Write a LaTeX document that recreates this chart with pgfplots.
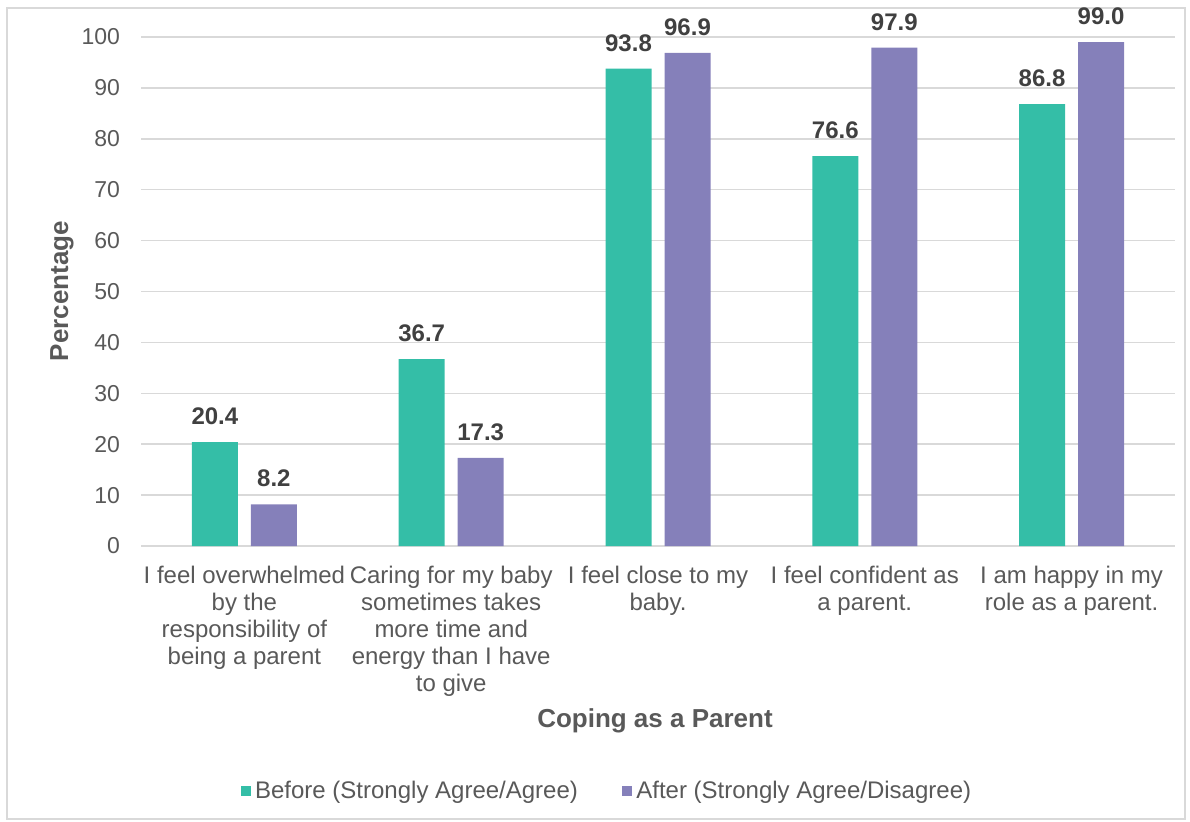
\documentclass[border=0pt]{standalone}
\usepackage{pgfplots}
\pgfplotsset{compat=1.18}
\usepackage{fontspec}
\setmainfont{Liberation Sans}
\definecolor{teal1}{RGB}{52,190,167}
\definecolor{purp}{RGB}{133,128,186}
\definecolor{txt}{RGB}{89,89,89}
\definecolor{lbl}{RGB}{64,64,64}
\definecolor{grd}{RGB}{217,217,217}
\begin{document}
\begin{tikzpicture}
\path[use as bounding box] (0,0) rectangle (595pt,410.5pt);
\draw[grd, line width=0.75pt] (3.5pt,1pt) rectangle (592.5pt,406.5pt);
\begin{axis}[
  at={(70.5pt,137.5pt)}, anchor=south west,
  scale only axis, width=517pt, height=254.5pt,
  ybar,
  xmin=-0.5, xmax=4.5, ymin=0, ymax=100,
  ytick={0,10,...,100},
  xtick={0,1,2,3,4},
  xticklabels={I feel overwhelmed\\by the\\responsibility of\\being a parent,
    Caring for my baby\\sometimes takes\\more time and\\energy than I have\\to give,
    I feel close to my\\baby.,
    I feel confident as\\a parent.,
    I am happy in my\\role as a parent.},
  x tick label style={align=center, font=\fontsize{12}{13.5}\selectfont, text=txt, yshift=-6.5pt},
  y tick label style={font=\fontsize{11.5}{13.5}\selectfont, text=txt, xshift=-7pt},
  /pgf/number format/assume math mode=true,
  major tick length=0pt,
  axis line style={draw=none},
  ymajorgrids, grid style={grd, line width=0.75pt},
  clip=false,
  bar width=23pt,
  nodes near coords={\pgfmathprintnumber[fixed,zerofill,precision=1]{\pgfplotspointmeta}},
  every node near coord/.append style={font=\bfseries\fontsize{12}{13.5}\selectfont, text=lbl, yshift=5pt},
  legend columns=2,
  legend style={at={(0.4516,-0.481)}, anchor=center, draw=none, font=\fontsize{12}{13.5}\selectfont, text=txt,
    /tikz/every even column/.append style={column sep=20pt}},
  legend image code/.code={\fill[#1] (0pt,-2.6pt) rectangle (5.2pt,2.6pt);},
]
\addplot[bar shift=-14.75pt, fill=teal1, draw=none] coordinates {(0,20.4) (1,36.7) (2,93.8) (3,76.6) (4,86.8)};
\addlegendentry{Before (Strongly Agree/Agree)}
\addplot[bar shift=14.75pt, fill=purp, draw=none] coordinates {(0,8.2) (1,17.3) (2,96.9) (3,97.9) (4,99.0)};
\addlegendentry{After (Strongly Agree/Disagree)}
\end{axis}
\node[font=\bfseries\fontsize{13}{15}\selectfont, text=txt] at (327.5pt,50pt) {Coping as a Parent};
\node[font=\bfseries\fontsize{13}{15}\selectfont, text=txt, rotate=90] at (31pt,265pt) {Percentage};
\end{tikzpicture}
\end{document}
